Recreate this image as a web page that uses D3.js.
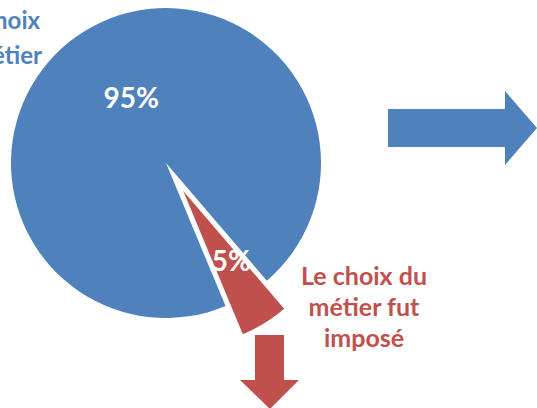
<!DOCTYPE html>
<html>
<head>
<meta charset="utf-8">
<script src="https://cdn.jsdelivr.net/npm/d3@7"></script>
<style>
  body { margin: 0; background: #fff; }
  svg { display: block; }
  text { font-family: Lato, "Open Sans", sans-serif; font-weight: bold; }
</style>
</head>
<body>
<div id="chart"></div>
<script>
// data
var categories = ["Le choix du métier fut libre", "Le choix du métier fut imposé"];
var values = [95, 5];
var valueLabels = ["95%", "5%"];
var colors = ["#4F81BD", "#C0504D"];
var blueLines = ["Libre choix", "du métier"];
var redLines = ["Le choix du", "métier fut", "imposé"];

var width = 537, height = 408;
var cx = 166, cy = 163, radius = 155;
var explode = 33;
var labelPos = [0.49, 0.53];

var svg = d3.select("#chart").append("svg")
  .attr("width", width)
  .attr("height", height);

var g = svg.append("g")
  .attr("transform", "translate(" + cx + "," + cy + ")");

var pie = d3.pie()
  .sort(null)
  .value(function (d) { return d; })
  .startAngle(157.4 * Math.PI / 180)
  .endAngle(157.4 * Math.PI / 180 + 2 * Math.PI);

var arc = d3.arc().innerRadius(0).outerRadius(radius);

var arcs = pie(values);

function offset(d, i) {
  if (i != 1) return [0, 0];
  var a = (d.startAngle + d.endAngle) / 2;
  return [explode * Math.sin(a), -explode * Math.cos(a)];
}

var slices = g.selectAll(".slice")
  .data(arcs)
  .enter().append("g")
  .attr("class", "slice")
  .attr("transform", function (d, i) {
    var o = offset(d, i);
    return "translate(" + o[0] + "," + o[1] + ")";
  });

slices.append("path")
  .attr("d", arc)
  .style("fill", function (d, i) { return colors[i]; });

slices.append("text")
  .attr("transform", function (d, i) {
    var r = radius * labelPos[i];
    var c = d3.arc().innerRadius(r).outerRadius(r).centroid(d);
    return "translate(" + (c[0] + 5) + "," + c[1] + ")";
  })
  .attr("dy", "0.36em")
  .style("text-anchor", "middle")
  .style("font-size", "28px")
  .style("fill", "#fff")
  .text(function (d, i) { return valueLabels[i]; });

// category labels
svg.append("text")
  .style("text-anchor", "end")
  .style("font-size", "24px")
  .style("fill", colors[0])
  .selectAll("tspan")
  .data(blueLines)
  .enter().append("tspan")
  .attr("x", function (d, i) { return i == 0 ? 40 : 42; })
  .attr("y", function (d, i) { return 29 + i * 35; })
  .text(function (d) { return d; });

svg.append("text")
  .style("text-anchor", "middle")
  .style("font-size", "25px")
  .style("fill", colors[1])
  .selectAll("tspan")
  .data(redLines)
  .enter().append("tspan")
  .attr("x", 364)
  .attr("y", function (d, i) { return 285 + i * 31; })
  .text(function (d) { return d; });

// arrows
svg.append("path")
  .attr("d", "M388,109 L505,109 L505,91 L537,128 L505,165 L505,147 L388,147 Z")
  .style("fill", colors[0]);

svg.append("path")
  .attr("d", "M255,335 L284,335 L284,380 L299,380 L270,409 L240,380 L255,380 Z")
  .style("fill", colors[1]);
</script>
</body>
</html>
